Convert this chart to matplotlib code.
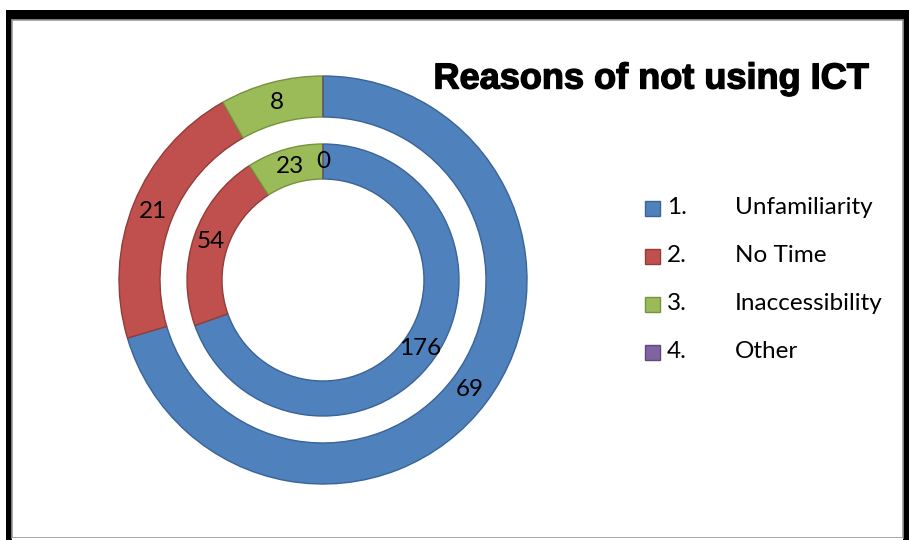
import matplotlib
matplotlib.use("Agg")
import matplotlib.pyplot as plt
from matplotlib.patches import Rectangle
import matplotlib.patheffects as pe

# Survey answers: reasons for not using ICT
categories = ["Unfamiliarity", "No Time", "Inaccessibility", "Other"]
numbers = ["1.", "2.", "3.", "4."]
outer_values = [69, 21, 8, 0]
inner_values = [176, 54, 23, 0]

colors = ["#4F81BD", "#C0504D", "#9BBB59", "#8064A2"]
edges = ["#3A6397", "#943C3A", "#76923F", "#5F497A"]

W, H = 909, 540
fig = plt.figure(figsize=(W / 100, H / 100), dpi=100)
ax = fig.add_axes([0, 0, 1, 1])

font = "Lato"
fs = 17.5

# frame: heavy black edges on top/left/right, thin grey inner outline
ax.add_patch(Rectangle((6, -5), W, H - 5, facecolor="black", edgecolor="none", zorder=0))
ax.add_patch(Rectangle((12, 2), 891, H - 22, facecolor="white", edgecolor="#9A9A9A",
                       linewidth=1.2, zorder=0.5))
ax.add_patch(Rectangle((12, -5), 891, 7, facecolor="white", edgecolor="none", zorder=0.6))

cx, cy = 323, 260
rings = [
    (outer_values, 204, 41),
    (inner_values, 136, 35),
]
for values, radius, width in rings:
    wedges, texts = ax.pie(
        values, radius=radius, center=(cx, cy), startangle=90, counterclock=False,
        colors=colors, labels=[str(v) for v in values],
        labeldistance=(radius - width / 2) / radius,
        wedgeprops=dict(width=width, linewidth=1.0),
        textprops=dict(fontsize=fs, family=font, color="black"),
        frame=True,
    )
    for w, ec in zip(wedges, edges):
        w.set_edgecolor(ec)
    for t in texts:
        t.set_ha("center")
        t.set_va("center")
    # the outer "Other" slice is empty and carries no label
    if radius == 204:
        texts[-1].set_visible(False)

ax.set_xlim(0, W)
ax.set_ylim(0, H)
ax.set_aspect("equal")
ax.axis("off")

ax.text(651, 461, "Reasons of not using ICT", fontsize=26, fontweight="bold",
        family="Liberation Sans", ha="center", va="center", color="black",
        path_effects=[pe.withStroke(linewidth=1.0, foreground="black")])

# legend
for i, (num, name, col, ec) in enumerate(zip(numbers, categories, colors, edges)):
    y = H - 208 - 48 * i
    ax.add_patch(Rectangle((645, y - 7.5), 15, 15, facecolor=col, edgecolor=ec, linewidth=1.0))
    ax.text(667, y, num, fontsize=fs, family=font, ha="left", va="center")
    ax.text(735, y, name, fontsize=fs, family=font, ha="left", va="center")

fig.savefig("out.png", dpi=100)
